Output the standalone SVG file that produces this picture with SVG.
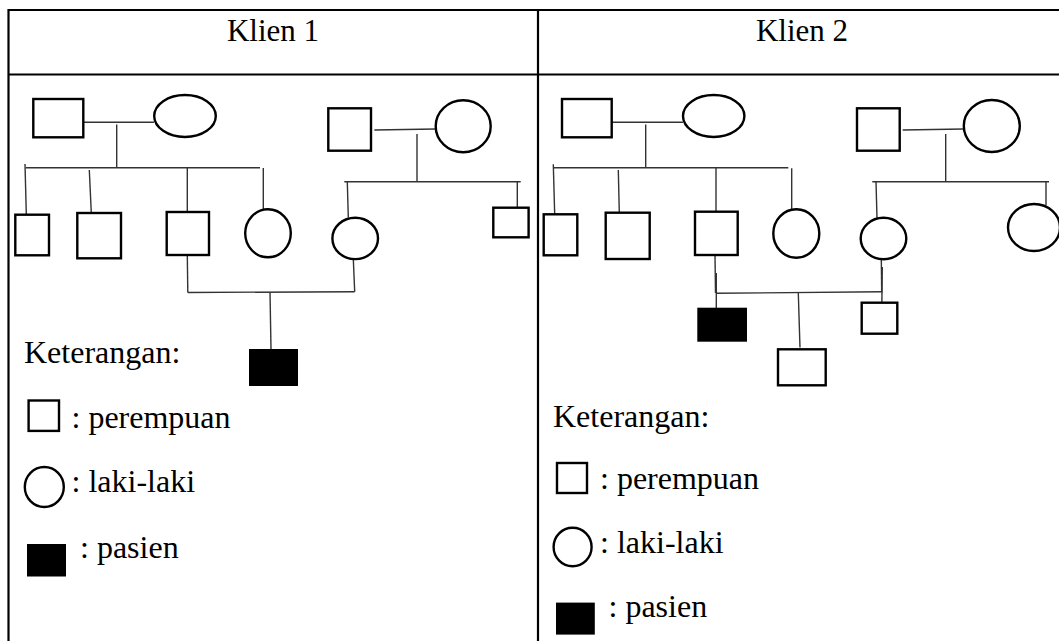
<svg xmlns="http://www.w3.org/2000/svg" width="1059" height="641" viewBox="0 0 1059 641">
  <style>
    .grid { stroke: #000; stroke-width: 2.2; fill: none; }
    .node { stroke: #000; stroke-width: 2.4; fill: #fff; }
    .patient { fill: #000; stroke: none; }
    .link { stroke: #333; stroke-width: 1.4; fill: none; }
    text { font-family: "Liberation Serif", "Times New Roman", serif; font-size: 32px; fill: #000; }
    .head { text-anchor: middle; font-size: 31px; }
  </style>
  <rect width="1059" height="641" fill="#fff"/>

  <!-- table frame -->
  <g id="table">
    <line class="grid" x1="8.5" y1="10" x2="1059" y2="10"/>
    <line class="grid" x1="8.5" y1="74.5" x2="1059" y2="74.5"/>
    <line class="grid" x1="8.5" y1="9" x2="8.5" y2="641"/>
    <line class="grid" x1="538" y1="9" x2="538" y2="641"/>
    <text class="head" x="273" y="41">Klien 1</text>
    <text class="head" x="802" y="41">Klien 2</text>
  </g>

  <!-- connectors -->
  <g id="connectors">
    <!-- Klien 1 -->
    <line class="link" x1="83" y1="122.3" x2="154" y2="122.3"/>
    <line class="link" x1="116.7" y1="124.5" x2="116.7" y2="167.7"/>
    <line class="link" x1="25.7" y1="167.7" x2="260" y2="167.7"/>
    <line class="link" x1="25" y1="164" x2="26.3" y2="214"/>
    <line class="link" x1="89.3" y1="170" x2="91.3" y2="213"/>
    <line class="link" x1="187.3" y1="167.7" x2="187.3" y2="212"/>
    <line class="link" x1="263.3" y1="168" x2="263.3" y2="209.5"/>
    <line class="link" x1="374.3" y1="130" x2="435.7" y2="129"/>
    <line class="link" x1="417" y1="134" x2="417" y2="181.7"/>
    <line class="link" x1="344.3" y1="181.7" x2="520.7" y2="181.7"/>
    <line class="link" x1="347.3" y1="181.7" x2="348.3" y2="217.5"/>
    <line class="link" x1="517.3" y1="181.7" x2="517.3" y2="208"/>
    <line class="link" x1="187.3" y1="255" x2="187.8" y2="292.5"/>
    <line class="link" x1="353.3" y1="259" x2="354.7" y2="291.7"/>
    <line class="link" x1="187.8" y1="292.5" x2="354.7" y2="291.7"/>
    <line class="link" x1="270" y1="292" x2="271" y2="349"/>
    <!-- Klien 2 -->
    <line class="link" x1="612" y1="122.3" x2="683" y2="122.3"/>
    <line class="link" x1="645.7" y1="124.5" x2="645.7" y2="167.7"/>
    <line class="link" x1="554" y1="167.7" x2="788.3" y2="167.7"/>
    <line class="link" x1="553.3" y1="164.3" x2="554.7" y2="214.5"/>
    <line class="link" x1="618.3" y1="170" x2="619.3" y2="213"/>
    <line class="link" x1="716" y1="167.7" x2="716" y2="212"/>
    <line class="link" x1="791.7" y1="168.3" x2="791.7" y2="209.5"/>
    <line class="link" x1="902.7" y1="130" x2="963.7" y2="129"/>
    <line class="link" x1="945.7" y1="134" x2="945.7" y2="181.7"/>
    <line class="link" x1="872.3" y1="181.7" x2="1049" y2="181.7"/>
    <line class="link" x1="876" y1="181.7" x2="877" y2="218"/>
    <line class="link" x1="1046" y1="181.7" x2="1046" y2="205.5"/>
    <line class="link" x1="715" y1="255" x2="715.5" y2="293"/>
    <line class="link" x1="716.3" y1="273" x2="716.3" y2="308"/>
    <line class="link" x1="716" y1="293.3" x2="882.3" y2="291.7"/>
    <line class="link" x1="881.3" y1="259" x2="881.7" y2="292"/>
    <line class="link" x1="882.3" y1="267" x2="881.7" y2="316.7"/>
    <line class="link" x1="798.3" y1="293" x2="800" y2="347.5"/>
  </g>

  <!-- Klien 1 pedigree -->
  <g id="k1-grandfather-a"><rect class="node" x="33.3" y="99" width="50" height="38.3"/></g>
  <g id="k1-grandmother-a"><ellipse class="node" cx="185" cy="116" rx="30.8" ry="21"/></g>
  <g id="k1-grandfather-b"><rect class="node" x="328.3" y="108.3" width="42.7" height="42.4"/></g>
  <g id="k1-grandmother-b"><ellipse class="node" cx="463.2" cy="126.2" rx="27.5" ry="26"/></g>
  <g id="k1-child-1"><rect class="node" x="15.3" y="214.7" width="33.7" height="40.6"/></g>
  <g id="k1-child-2"><rect class="node" x="77.3" y="213" width="43.7" height="45.3"/></g>
  <g id="k1-father"><rect class="node" x="166.7" y="212" width="42.3" height="43"/></g>
  <g id="k1-child-4"><ellipse class="node" cx="268" cy="233.3" rx="22.8" ry="24"/></g>
  <g id="k1-mother"><ellipse class="node" cx="355.2" cy="238.4" rx="22.8" ry="20.7"/></g>
  <g id="k1-child-6"><rect class="node" x="493.3" y="207.7" width="35.3" height="29.6"/></g>
  <g id="k1-patient"><rect class="patient" x="249" y="349" width="49" height="37"/></g>

  <!-- Klien 1 legend -->
  <g id="k1-legend">
    <text x="24" y="363">Keterangan:</text>
    <rect class="node" x="28.6" y="400.5" width="30.4" height="30.4" stroke-width="2"/>
    <text x="71.5" y="428">: perempuan</text>
    <ellipse class="node" cx="44.3" cy="487" rx="19.5" ry="20" stroke-width="2"/>
    <text x="71.5" y="492">: laki-laki</text>
    <rect class="patient" x="27" y="544" width="39" height="32.5"/>
    <text x="80" y="558">: pasien</text>
  </g>

  <!-- Klien 2 pedigree -->
  <g id="k2-grandfather-a"><rect class="node" x="562" y="99" width="49.7" height="38.3"/></g>
  <g id="k2-grandmother-a"><ellipse class="node" cx="713.7" cy="116" rx="30.7" ry="21"/></g>
  <g id="k2-grandfather-b"><rect class="node" x="857" y="108.3" width="42.7" height="42.4"/></g>
  <g id="k2-grandmother-b"><ellipse class="node" cx="991.8" cy="126" rx="28" ry="26"/></g>
  <g id="k2-child-1"><rect class="node" x="543.7" y="214.3" width="33.6" height="41"/></g>
  <g id="k2-child-2"><rect class="node" x="605.7" y="212.7" width="44" height="46.3"/></g>
  <g id="k2-father"><rect class="node" x="695" y="211.7" width="42.7" height="43.3"/></g>
  <g id="k2-child-4"><ellipse class="node" cx="796.3" cy="233.5" rx="23" ry="24.2"/></g>
  <g id="k2-mother"><ellipse class="node" cx="883.5" cy="238.5" rx="22.8" ry="20.8"/></g>
  <g id="k2-child-6"><ellipse class="node" cx="1034" cy="227.5" rx="26" ry="23.5"/></g>
  <g id="k2-patient"><rect class="patient" x="697.3" y="307.7" width="49.7" height="34"/></g>
  <g id="k2-sibling-a"><rect class="node" x="778" y="349.3" width="47.7" height="36"/></g>
  <g id="k2-sibling-b"><rect class="node" x="861.7" y="302.7" width="35.6" height="31"/></g>

  <!-- Klien 2 legend -->
  <g id="k2-legend">
    <text x="553" y="427">Keterangan:</text>
    <rect class="node" x="557" y="463" width="30" height="30" stroke-width="2"/>
    <text x="600" y="489">: perempuan</text>
    <ellipse class="node" cx="572.6" cy="547" rx="19" ry="19.2" stroke-width="2"/>
    <text x="600" y="553">: laki-laki</text>
    <rect class="patient" x="556" y="602.6" width="38.8" height="32"/>
    <text x="608.5" y="617">: pasien</text>
  </g>
</svg>
